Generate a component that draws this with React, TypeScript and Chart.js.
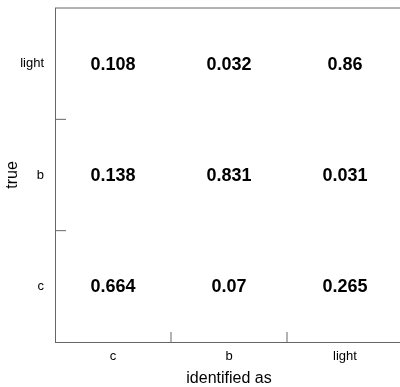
import React, { useEffect, useRef } from "react";
import { Chart, registerables } from "chart.js";

Chart.register(...registerables);

const xCategories = ["c", "b", "light"];
const yCategories = ["c", "b", "light"];
// rows = true class (bottom to top), columns = identified as
const rowC = [0.664, 0.07, 0.265];
const rowB = [0.138, 0.831, 0.031];
const rowLight = [0.108, 0.032, 0.86];
const rows = [rowC, rowB, rowLight];

const FONT = "'Liberation Sans', Arial, Helvetica, sans-serif";
const LINE = "#666";

export default function App() {
  const ref = useRef<HTMLCanvasElement>(null);

  useEffect(() => {
    const points: { x: number; y: number; v: number }[] = [];
    rows.forEach((row, r) =>
      row.forEach((v, c) => points.push({ x: c + 0.5, y: r + 0.5, v }))
    );

    const frame = {
      id: "frame",
      afterDatasetsDraw(chart: any) {
        const { ctx, chartArea } = chart;
        const xs = chart.scales.x;
        const ys = chart.scales.y;
        ctx.save();
        ctx.strokeStyle = LINE;
        ctx.lineWidth = 1;
        ctx.beginPath();
        ctx.moveTo(chartArea.left, chartArea.top);
        ctx.lineTo(chartArea.right, chartArea.top);
        for (let i = 1; i < xCategories.length; i++) {
          const px = xs.getPixelForValue(i);
          ctx.moveTo(px, chartArea.bottom);
          ctx.lineTo(px, chartArea.bottom - 10);
        }
        for (let i = 1; i < yCategories.length; i++) {
          const py = ys.getPixelForValue(i);
          ctx.moveTo(chartArea.left, py);
          ctx.lineTo(chartArea.left + 11, py);
        }
        ctx.stroke();

        const meta = chart.getDatasetMeta(0);
        ctx.fillStyle = "#000";
        ctx.font = `bold 18px ${FONT}`;
        ctx.textAlign = "center";
        ctx.textBaseline = "middle";
        meta.data.forEach((el: any, i: number) => {
          ctx.fillText(String(points[i].v), el.x, el.y + 1);
        });
        ctx.restore();
      },
    };

    const chart = new Chart(ref.current!, {
      type: "scatter",
      data: {
        datasets: [
          {
            data: points.map((p) => ({ x: p.x, y: p.y })),
            pointRadius: 0,
            pointHoverRadius: 0,
          },
        ],
      },
      options: {
        responsive: false,
        animation: false,
        events: [],
        layout: { padding: { top: 8, left: 0, right: 0, bottom: 0 } },
        plugins: { legend: { display: false }, tooltip: { enabled: false } },
        scales: {
          x: {
            type: "linear",
            position: "bottom",
            min: 0,
            max: xCategories.length,
            afterBuildTicks: (s: any) => {
              s.ticks = xCategories.map((_, i) => ({ value: i + 0.5 }));
            },
            afterFit: (s: any) => {
              s.height = 45;
              s.paddingLeft = 0;
              s.paddingRight = 0;
            },
            grid: { display: false, drawTicks: false },
            border: { display: true, color: LINE, width: 1 },
            ticks: {
              autoSkip: false,
              maxRotation: 0,
              padding: 7,
              color: "#000",
              font: { family: FONT, size: 13 },
              callback: (v: any) => xCategories[Math.round(Number(v) - 0.5)],
            },
            title: {
              display: true,
              text: "identified as",
              color: "#000",
              font: { family: FONT, size: 16, lineHeight: 1 },
              padding: { top: 0, bottom: 0 },
            },
          },
          y: {
            type: "linear",
            position: "left",
            min: 0,
            max: yCategories.length,
            afterBuildTicks: (s: any) => {
              s.ticks = yCategories.map((_, i) => ({ value: i + 0.5 }));
            },
            afterFit: (s: any) => {
              s.width = 55;
              s.paddingTop = 0;
              s.paddingBottom = 0;
            },
            grid: { display: false, drawTicks: false },
            border: { display: true, color: LINE, width: 1 },
            ticks: {
              autoSkip: false,
              padding: 11,
              color: "#000",
              font: { family: FONT, size: 13 },
              callback: (v: any) => yCategories[Math.round(Number(v) - 0.5)],
            },
            title: {
              display: true,
              text: "true",
              color: "#000",
              font: { family: FONT, size: 16 },
              padding: { top: 3, bottom: 0 },
            },
          },
        },
      },
      plugins: [frame],
    });
    return () => chart.destroy();
  }, []);

  return (
    <div
      style={{
        position: "fixed",
        left: 0,
        top: 0,
        width: 400,
        height: 387,
        overflow: "hidden",
        background: "#fff",
      }}
    >
      <canvas ref={ref} width={403} height={387} style={{ display: "block" }} />
    </div>
  );
}
